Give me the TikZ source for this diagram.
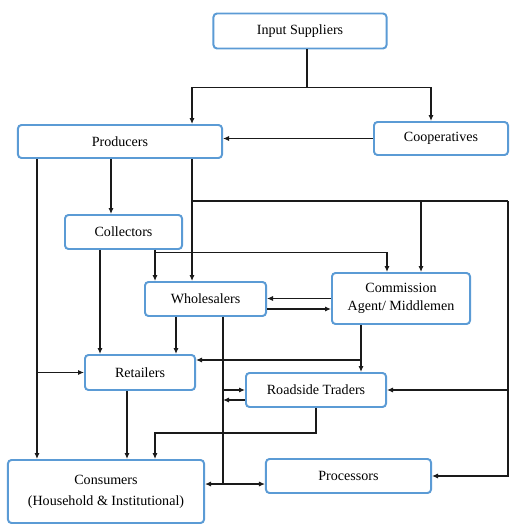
\documentclass[tikz,border=0pt]{standalone}
\usepackage{fontspec}
\setmainfont{Liberation Serif}
\usepackage{xcolor}
\usetikzlibrary{arrows.meta}
\definecolor{BoxBlue}{HTML}{5B9BD5}
\definecolor{LineBlack}{HTML}{1A1A1A}

\begin{document}
\begin{tikzpicture}[
	x=0.025cm, y=-0.025cm, % one unit is one pixel of the layout
	% Style for the rounded boxes
	box/.style={
		rectangle,
		rounded corners=2.5pt,
		draw=BoxBlue,         % Border color
		fill=white,
		line width=1.4pt,
		align=center,
		font=\fontsize{10}{13}\selectfont,
		inner sep=2pt
	},
	% Style for the plain lines
	flow/.style={
		draw=LineBlack,
		line width=1.1pt
	},
	% Style for the lines with an arrow tip
	arr/.style={
		flow,
		-{Latex[length=1.5mm,width=1.3mm]}
	}
	]
	\useasboundingbox (0,0) rectangle (509,525);
	
	% 1. Boxes
	\node[box, minimum width=4.325cm, minimum height=0.875cm] (insup) at (300,31) {Input Suppliers};
	\node[box, minimum width=5.1cm, minimum height=0.825cm] (prod) at (120,141.5) {Producers};
	\node[box, minimum width=3.35cm, minimum height=0.825cm] (coop) at (441,138.5) {Cooperatives};
	\node[box, minimum width=2.925cm, minimum height=0.85cm] (coll) at (123.5,232) {Collectors};
	\node[box, minimum width=3.025cm, minimum height=0.85cm] (whol) at (205.5,299) {Wholesalers};
	\node[box, minimum width=3.45cm, minimum height=1.275cm] (comm) at (401,298.5) {Commission\\Agent/ Middlemen};
	\node[box, minimum width=2.75cm, minimum height=0.875cm] (ret) at (140,372.5) {Retailers};
	\node[box, minimum width=3.5cm, minimum height=0.85cm] (road) at (316,390) {Roadside Traders};
	\node[box, minimum width=4.9cm, minimum height=1.575cm] (cons) at (106,491.5) {Consumers\\[2pt](Household \& Institutional)};
	\node[box, minimum width=4.125cm, minimum height=0.85cm] (proc) at (348.5,476) {Processors};
	
	% 2. Points on the box edges where lines leave
	\coordinate (split) at ([xshift=0.175cm]insup.south);
	\coordinate (p1) at ([xshift=-2.075cm]prod.south);
	\coordinate (p2) at ([xshift=-0.225cm]prod.south);
	\coordinate (p3) at ([xshift=1.8cm]prod.south);
	\coordinate (c1) at ([xshift=-0.5875cm]coll.south);
	\coordinate (c2) at ([xshift=0.7875cm]coll.south);
	\coordinate (w1) at ([xshift=-0.7375cm]whol.south);
	\coordinate (w2) at ([xshift=0.4375cm]whol.south);
	\coordinate (m1) at ([xshift=-0.35cm]comm.north);
	\coordinate (m2) at ([xshift=0.5cm]comm.north);
	\coordinate (m3) at ([xshift=-1cm]comm.south);
	\coordinate (r1) at ([xshift=-0.325cm]ret.south);
	\coordinate (r2) at ([yshift=0.3125cm]ret.east);
	\coordinate (k1) at ([xshift=1.225cm]cons.north);
	\coordinate (bus) at ([yshift=-1.05cm]p3);
	\coordinate (rail) at ([xshift=7.9cm]bus);
	\coordinate (hub) at ([yshift=-4.175cm]w2);
	\coordinate (wo) at ([yshift=-0.25cm]whol.east);
	\coordinate (rb) at ([yshift=-0.25cm]road.west);
	
	% 3. Lines
	% From input suppliers
	\draw[flow] (split) -- ++(0,38) coordinate (fork);
	\draw[arr] (fork) -| (p3 |- prod.north);
	\draw[arr] (fork) -| ([xshift=-0.25cm]coop.north);
	\draw[arr] (coop.west) -- (coop.west -| prod.east);
	
	% From producers
	\draw[arr] (p1) -- (p1 |- cons.north);
	\draw[arr] (p1 |- ret.west) -- (ret.west);
	\draw[arr] (p2) -- (p2 |- coll.north);
	\draw[arr] (p3) -- (p3 |- whol.north);
	\draw[flow] (bus) -- (rail);
	\draw[arr] (m2 |- bus) -- (m2);
	\draw[arr] (rail) |- (proc.east);
	\draw[arr] (rail |- road.east) -- (road.east);
	
	% From collectors
	\draw[arr] (c1) -- (c1 |- ret.north);
	\draw[arr] (c2) -- (c2 |- whol.north);
	\draw[arr] (c2) -- ++(0,2.5) -| (m1);
	
	% Wholesalers and commission agents
	\draw[arr] (comm.west) -- (comm.west -| whol.east);
	\draw[arr] (wo) -- (wo -| comm.west);
	\draw[arr] (w1) -- (w1 |- ret.north);
	\draw[flow] (w2) -- (hub);
	\draw[arr] (hub) -- (hub -| cons.east);
	\draw[arr] (hub) -- (hub -| proc.west);
	\draw[arr] (w2 |- road.west) -- (road.west);
	\draw[arr] (rb) -- (rb -| w2);
	\draw[arr] (m3) -- (m3 |- road.north);
	\draw[arr] (m3 |- r2) -- (r2);
	
	% To consumers
	\draw[arr] (r1) -- (r1 |- cons.north);
	\draw[arr] (road.south) -- ++(0,25) -| (k1);
	
\end{tikzpicture}
\end{document}
